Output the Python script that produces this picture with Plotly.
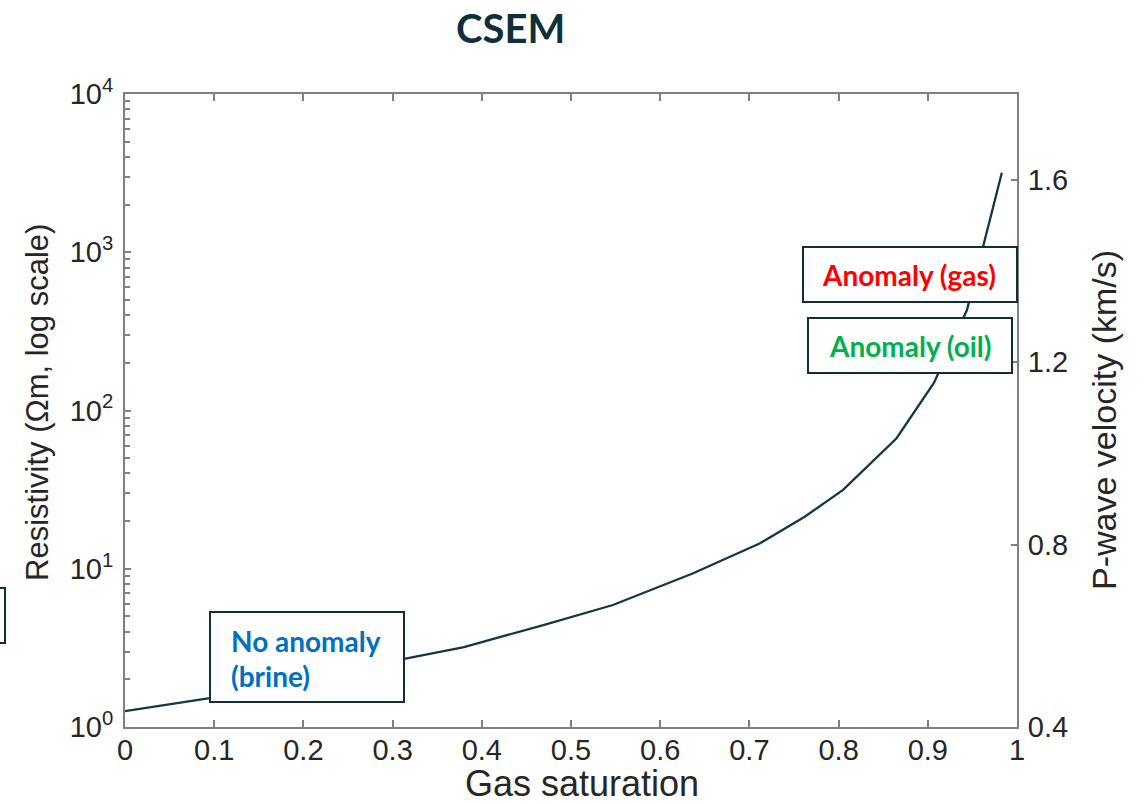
import plotly.graph_objects as go

# Resistivity versus gas saturation (log scale)
gas_saturation = [0.0, 0.095, 0.313, 0.38, 0.469, 0.547, 0.637, 0.712, 0.762,
                  0.805, 0.865, 0.907, 0.944, 0.964, 0.983]
resistivity = [1.26, 1.52, 2.69, 3.2, 4.41, 5.9, 9.36, 14.5, 21.3,
               31.5, 66.8, 150, 433, 1190, 3178]

x_ticks = [0, 0.1, 0.2, 0.3, 0.4, 0.5, 0.6, 0.7, 0.8, 0.9, 1]
x_tick_text = ["0", "0.1", "0.2", "0.3", "0.4", "0.5", "0.6", "0.7", "0.8", "0.9", "1"]
decades = [0, 1, 2, 3, 4]
velocity_ticks = [0.4, 0.8, 1.2, 1.6]

W, H = 1147, 803
ML, MR, MT, MB = 125, 130, 94, 76
PW, PH = W - ML - MR, H - MT - MB


def px(x):
    return (x - ML) / PW


def py(y):
    return (H - MB - y) / PH


# log axis: labelled decades, unlabelled 2..9 subdivisions as minor ticks
y_vals = [10 ** d for d in decades]
y_text = [f"10<sup>{d}</sup>" for d in decades]
y_minor = [m * 10 ** d for d in decades[:-1] for m in range(2, 10)]

AXIS = "#808080"
TICKFONT = dict(family="Liberation Sans, Arial, sans-serif", size=29, color="#262626")
INK = "#0f2f3b"

fig = go.Figure()
fig.add_trace(go.Scatter(
    x=gas_saturation, y=resistivity, mode="lines",
    line=dict(color="#123845", width=2.3), showlegend=False, hoverinfo="skip",
))
# empty trace so the velocity axis is drawn
fig.add_trace(go.Scatter(x=[None], y=[None], yaxis="y2", showlegend=False))

fig.update_layout(
    width=W, height=H,
    margin=dict(l=ML, r=MR, t=MT, b=MB),
    paper_bgcolor="white", plot_bgcolor="white",
    xaxis=dict(
        range=[0, 1], tickvals=x_ticks, ticktext=x_tick_text,
        showgrid=False, zeroline=False,
        showline=True, linecolor=AXIS, linewidth=2, mirror="ticks",
        ticks="inside", ticklen=7, tickwidth=1.5, tickcolor=AXIS,
        tickfont=TICKFONT, ticklabelstandoff=-4,
    ),
    yaxis=dict(
        type="log", range=[0, 4], tickvals=y_vals, ticktext=y_text,
        showgrid=False, zeroline=False,
        showline=True, linecolor=AXIS, linewidth=2,
        ticks="inside", ticklen=6, tickwidth=1.5, tickcolor=AXIS,
        tickfont=TICKFONT, ticklabelstandoff=4,
        minor=dict(tickmode="array", tickvals=y_minor, ticks="inside",
                   ticklen=5, tickwidth=1.5, tickcolor=AXIS, showgrid=False),
    ),
    yaxis2=dict(
        overlaying="y", side="right", range=[0.4, 1.7887],
        tickvals=velocity_ticks, ticktext=[f"{v:.1f}" for v in velocity_ticks],
        showgrid=False, zeroline=False,
        showline=True, linecolor=AXIS, linewidth=2,
        ticks="inside", ticklen=6, tickwidth=1.5, tickcolor=AXIS,
        tickfont=TICKFONT, ticklabelstandoff=3,
    ),
)

BOX = dict(type="rect", xref="paper", yref="paper", layer="above",
           line=dict(color=INK, width=2), fillcolor="white")
boxes = [
    (210, 612, 404, 702),   # brine
    (803, 247, 1017, 302),  # gas
    (808, 318, 1012, 373),  # oil
    (-30, 588, 5, 643),     # partial box at left edge
]
for x0, y0, x1, y1 in boxes:
    fig.add_shape(**BOX, x0=px(x0), x1=px(x1), y0=py(y1), y1=py(y0))

LABEL = "Lato, 'Open Sans', sans-serif"
notes = [
    dict(text="<b>No anomaly</b>", x=px(229), y=py(641), xanchor="left", color="#0070C0"),
    dict(text="<b>(brine)</b>", x=px(229), y=py(676), xanchor="left", color="#0070C0"),
    dict(text="<b>Anomaly (gas)</b>", x=px(909), y=py(275), xanchor="center", color="#FF0000"),
    dict(text="<b>Anomaly (oil)</b>", x=px(910), y=py(346), xanchor="center", color="#00B050"),
]
for n in notes:
    fig.add_annotation(text=n["text"], x=n["x"], y=n["y"], xref="paper", yref="paper",
                       xanchor=n["xanchor"], yanchor="middle", showarrow=False,
                       font=dict(family=LABEL, size=28, color=n["color"]))

# title and axis titles
fig.add_annotation(text="<b>CSEM</b>", x=px(510), y=py(28), xref="paper", yref="paper",
                   xanchor="center", yanchor="middle", showarrow=False,
                   font=dict(family=LABEL, size=40, color=INK))
AXTITLE = dict(family="Liberation Sans, Arial, sans-serif", size=31, color="#262626")
fig.add_annotation(text="Gas saturation", x=px(582), y=py(806), xref="paper", yref="paper",
                   xanchor="center", yanchor="bottom", showarrow=False,
                   font=dict(AXTITLE, size=36))
fig.add_annotation(text="Resistivity (Ωm, log scale)", x=px(37), y=py(403),
                   xref="paper", yref="paper", xanchor="center", yanchor="middle",
                   textangle=-90, showarrow=False, font=AXTITLE)
fig.add_annotation(text="P-wave velocity (km/s)", x=px(1104), y=py(420),
                   xref="paper", yref="paper", xanchor="center", yanchor="middle",
                   textangle=-90, showarrow=False, font=dict(AXTITLE, size=34))

fig.write_html("out.html")
